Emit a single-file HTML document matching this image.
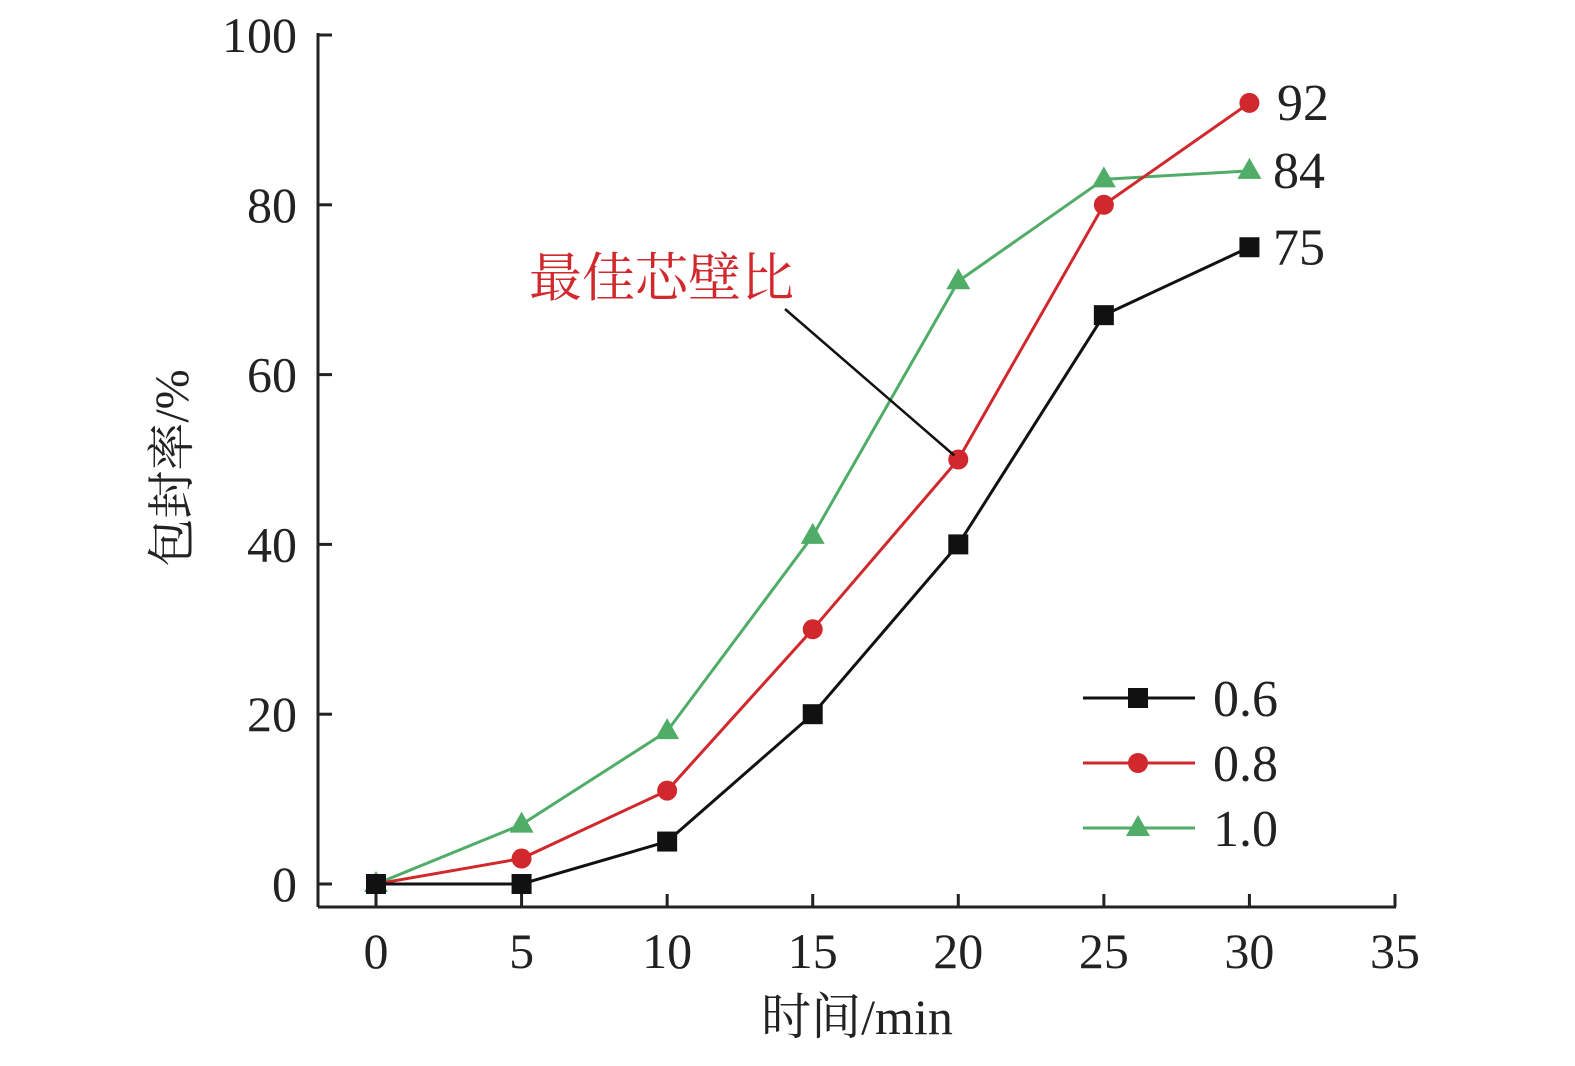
<!DOCTYPE html>
<html><head><meta charset="utf-8"><style>
html,body{margin:0;padding:0;background:#fff;}
svg text{font-family:"Liberation Serif","Noto Serif CJK SC",serif;}
</style></head><body>
<svg id="chart" width="1575" height="1061" viewBox="0 0 1575 1061" xmlns="http://www.w3.org/2000/svg"></svg>
<script>
const categories=[0,5,10,15,20,25,30];
const s06=[0,0,5,20,40,67,75];
const s08=[0,3,11,30,50,80,92];
const s10=[0,7,18,41,71,83,84];
const yTicks=[0,20,40,60,80,100];
const xTicks=[0,5,10,15,20,25,30,35];
const endLabels=["92","84","75"];
const legendLabels=["0.6","0.8","1.0"];

const NS="http://www.w3.org/2000/svg";
const svg=document.getElementById('chart');
const X=v=>376+v*(1395-376)/35;
const Y=v=>884-v*(884-35)/100;
function mk(tag,attrs,parent){const e=document.createElementNS(NS,tag);for(const k in attrs)e.setAttribute(k,attrs[k]);(parent||svg).appendChild(e);return e;}

const axes=mk('g',{});


let a=mk('line',{x1:318,y1:33,x2:318,y2:907,stroke:'#222','stroke-width':3},axes);


a=mk('line',{x1:318,y1:907,x2:1396,y2:907,stroke:'#222','stroke-width':3},axes);


yTicks.forEach(v=>{
  let t=mk('line',{x1:318,y1:Y(v),x2:332,y2:Y(v),stroke:'#222','stroke-width':3},axes);
  
  
  let l=mk('text',{x:297,y:Y(v)+17,'text-anchor':'end','font-size':50,fill:'#222'},axes);
  l.textContent=v;
  
  
});
xTicks.forEach(v=>{
  let t=mk('line',{x1:X(v),y1:907,x2:X(v),y2:894,stroke:'#222','stroke-width':3},axes);
  
  
  let l=mk('text',{x:X(v),y:968,'text-anchor':'middle','font-size':50,fill:'#222'},axes);
  l.textContent=v;
  
  
});
let tt=mk('text',{x:857,y:1034,'text-anchor':'middle','font-size':50,fill:'#222'});
tt.textContent='时间/min';


tt=mk('text',{x:0,y:0,'text-anchor':'middle','font-size':48,fill:'#222',transform:'translate(188,468) rotate(-90)'});
tt.textContent='包封率/%';



function marker(g,type,x,y,c){
  let m;
  if(type==='sq') m=mk('rect',{x:x-10,y:y-10,width:20,height:20,fill:c},g);
  else if(type==='ci') m=mk('circle',{cx:x,cy:y,r:10,fill:c},g);
  else m=mk('polygon',{points:`${x},${y-13} ${x+12},${y+8} ${x-12},${y+8}`,fill:c},g);
  
  
}
const series=[{d:s10,c:'#4fad68',m:'tr',n:'series-1-0'},{d:s08,c:'#d0282c',m:'ci',n:'series-0-8'},{d:s06,c:'#111',m:'sq',n:'series-0-6'}];
series.forEach(s=>{
  const g=mk('g',{});
  
  
  let p=mk('polyline',{points:categories.map((c,i)=>X(c)+','+Y(s.d[i])).join(' '),fill:'none',stroke:s.c,'stroke-width':3},g);
  
  
  categories.forEach((c,i)=>marker(g,s.m,X(c),Y(s.d[i]),s.c));
});
const ends=[[s08,1277],[s10,1273],[s06,1273]];
ends.forEach((e,i)=>{
  let l=mk('text',{x:e[1],y:Y(e[0][6])+17,'font-size':52,fill:'#222'});
  l.textContent=endLabels[i];
  
  
});
let an=mk('line',{x1:785,y1:309,x2:X(20)-4,y2:Y(s08[4])-4,stroke:'#111','stroke-width':2.5});


an=mk('text',{x:529,y:296,'font-size':53,fill:'#d0282c','font-family':'"Noto Serif CJK SC",serif'});
an.textContent='最佳芯壁比';


const lg=mk('g',{});


const legS=[series[2],series[1],series[0]];
legS.forEach((s,i)=>{
  const y=698+i*65;
  const e=mk('g',{},lg);
  
  
  mk('line',{x1:1083,y1:y,x2:1195,y2:y,stroke:s.c,'stroke-width':3},e);
  marker(e,s.m,1138,y,s.c);
  let l=mk('text',{x:1213,y:y+18,'font-size':52,fill:'#222'},e);
  l.textContent=legendLabels[i];
});
</script>
</body></html>
